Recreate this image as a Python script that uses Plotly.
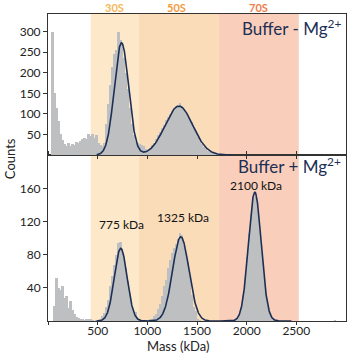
import numpy as np
import plotly.graph_objects as go

# ---------------- data ----------------
BIN_WIDTH = 20  # kDa
# histogram counts per 20 kDa bin starting at 0 kDa (Buffer - Mg2+)
counts_minus = [0, 0, 299, 152, 115, 82, 50, 36, 26, 22,
                29, 22, 27, 25, 31, 29, 34, 38, 42, 39,
                50, 46, 52, 41, 49, 30, 24, 22, 28, 75,
                125, 170, 215, 245, 255, 300, 280, 262, 235, 200,
                160, 115, 75, 48, 33, 30, 27, 24, 22, 14,
                10, 16, 24, 30, 40, 48, 56, 66, 74, 84,
                92, 100, 108, 114, 118, 119, 126, 118, 110, 102,
                92, 86, 80, 66, 58, 44, 35, 26, 20, 15,
                10, 7, 5, 3, 3, 2, 1, 1, 1, 1]
# histogram counts per 20 kDa bin starting at 0 kDa (Buffer + Mg2+)
counts_plus = [0, 0, 0, 18, 52, 40, 38, 42, 28, 30,
               16, 24, 13, 9, 5, 4, 2, 3, 1, 3,
               2, 3, 1, 0, 1, 0, 1, 6, 10, 17,
               26, 42, 55, 68, 80, 95, 96, 82, 76, 64,
               48, 33, 18, 11, 11, 4, 1, 0, 0, 1,
               1, 2, 3, 6, 9, 14, 20, 30, 42, 50,
               64, 74, 82, 88, 93, 99, 106, 104, 92, 82,
               72, 55, 32, 17, 12, 3, 1, 0, 0, 0,
               0, 0, 0, 0, 0, 0, 0, 0, 0, 0,
               0, 0, 1, 1, 2, 4, 8, 17, 31, 52,
               78, 106, 130, 148, 150, 134, 110, 83, 57, 35,
               19, 10, 5, 2, 1, 0, 0, 0, 0, 0,
               0, 0, 0, 0, 0, 0, 0, 0, 0, 0,
               0, 0, 0, 0, 0, 0, 0, 0, 0, 0,
               0, 0, 0, 0, 1, 0]

# Gaussian fit parameters: centre (kDa), sigma (kDa), amplitude (counts)
fit_minus_mu = [740, 1318]
fit_minus_sigma = [72, 140]
fit_minus_amp = [273, 119]
fit_minus_span = [490, 1850]

fit_plus_mu = [732, 1337, 2082]
fit_plus_sigma = [64, 82, 64]
fit_plus_amp = [88, 102, 156]
fit_plus_span = [490, 2450]

# sedimentation regions
region_names = ["30S", "50S", "70S"]
region_start = [430, 912, 1720]
region_end = [912, 1720, 2525]
region_label_x = [665, 1295, 2115]

peak_labels = ["775 kDa", "1325 kDa", "2100 kDa"]
peak_label_x = [744, 1354, 2090]
peak_label_y = [117, 125, 164]

x_ticks = [0, 500, 1000, 1500, 2000, 2500]
x_ticktext = ["", "500", "1000", "1500", "2000", "2500"]
y_top_ticks = [50, 100, 150, 200, 250, 300]
y_bot_ticks = [40, 80, 120, 160]

# ---------------- styles ----------------
FONT = "Lato"
NAVY = "#1d2f55"
BAR = "#bebfc1"
band_colors = ["#fde8ca", "#fbdcb9", "#f9cebb"]
label_colors = ["#f7b75a", "#f39a3e", "#ee7c48"]


def gauss_sum(x, mus, sigs, amps):
    y = np.zeros_like(x)
    for m, s, a in zip(mus, sigs, amps):
        y += a * np.exp(-0.5 * ((x - m) / s) ** 2)
    return y


centers_minus = np.arange(len(counts_minus)) * BIN_WIDTH + BIN_WIDTH / 2
centers_plus = np.arange(len(counts_plus)) * BIN_WIDTH + BIN_WIDTH / 2

xm = np.linspace(fit_minus_span[0], fit_minus_span[1], 500)
xp = np.linspace(fit_plus_span[0], fit_plus_span[1], 800)

fig = go.Figure()
fig.add_trace(go.Bar(x=centers_minus, y=counts_minus, width=BIN_WIDTH,
                     marker=dict(color=BAR, line=dict(width=0)),
                     xaxis="x2", yaxis="y2", showlegend=False))
fig.add_trace(go.Scatter(x=xm, y=gauss_sum(xm, fit_minus_mu, fit_minus_sigma, fit_minus_amp),
                         mode="lines", line=dict(color=NAVY, width=1.6),
                         xaxis="x2", yaxis="y2", showlegend=False))
fig.add_trace(go.Bar(x=centers_plus, y=counts_plus, width=BIN_WIDTH,
                     marker=dict(color=BAR, line=dict(width=0)),
                     xaxis="x", yaxis="y", showlegend=False))
fig.add_trace(go.Scatter(x=xp, y=gauss_sum(xp, fit_plus_mu, fit_plus_sigma, fit_plus_amp),
                         mode="lines", line=dict(color=NAVY, width=1.6),
                         xaxis="x", yaxis="y", showlegend=False))

shapes = []
for x0, x1, c in zip(region_start, region_end, band_colors):
    shapes.append(dict(type="rect", xref="x", yref="paper", x0=x0, x1=x1, y0=0, y1=1,
                       fillcolor=c, line=dict(width=0), layer="below"))

annotations = []
for name, xl, c in zip(region_names, region_label_x, label_colors):
    annotations.append(dict(text=name, x=xl, xref="x", y=1, yref="paper", yanchor="middle",
                            yshift=7, showarrow=False,
                            font=dict(family=FONT, size=11, color=c, weight="bold")))
for t, xl, yl in zip(peak_labels, peak_label_x, peak_label_y):
    annotations.append(dict(text=t, x=xl, xref="x", y=yl, yref="y", showarrow=False,
                            font=dict(family=FONT, size=12, color="#111111")))
annotations.append(dict(text="Buffer - Mg<sup>2+</sup>", x=0.99, xref="paper", y=0.955, yref="paper",
                        xanchor="right", yanchor="middle", showarrow=False,
                        font=dict(family=FONT, size=17, color=NAVY)))
annotations.append(dict(text="Buffer + Mg<sup>2+</sup>", x=0.99, xref="paper", y=0.505, yref="paper",
                        xanchor="right", yanchor="middle", showarrow=False,
                        font=dict(family=FONT, size=17, color=NAVY)))
annotations.append(dict(text="Counts", x=-0.128, xref="paper", y=0.53, yref="paper",
                        xanchor="center", yanchor="middle",
                        showarrow=False, textangle=-90, font=dict(family=FONT, size=13, color="#222")))
annotations.append(dict(text="Mass (kDa)", x=0.437, xref="paper", y=-0.08, yref="paper",
                        xanchor="center", yanchor="middle", showarrow=False,
                        font=dict(family=FONT, size=13, color="#222")))

axis_common = dict(showline=True, linecolor="#333333", linewidth=1,
                   showgrid=False, zeroline=False, tickcolor="#333333",
                   tickfont=dict(family=FONT, size=12, color="#222222"))

split = 166 / 307
fig.update_layout(
    width=353, height=353,
    margin=dict(l=48, r=7, t=14, b=32),
    paper_bgcolor="white", plot_bgcolor="white",
    bargap=0, barmode="overlay",
    shapes=shapes, annotations=annotations,
    xaxis=dict(**axis_common, mirror="ticks", range=[0, 3000], tickvals=x_ticks,
               ticktext=x_ticktext, ticks="outside", ticklen=3, ticklabelstandoff=-4,
               anchor="y", domain=[0, 1]),
    xaxis2=dict(**axis_common, mirror=True, range=[0, 3000], tickvals=x_ticks[1:],
                ticks="outside", ticklen=3, showticklabels=False, anchor="y2", matches="x"),
    yaxis=dict(**axis_common, mirror=True, range=[0, 201], tickvals=y_bot_ticks,
               ticks="outside", ticklen=4, domain=[0, split], anchor="x"),
    yaxis2=dict(**axis_common, mirror=True, range=[0, 343], tickvals=y_top_ticks,
                ticks="outside", ticklen=4, domain=[split, 1], anchor="x2"),
)

fig.write_html("out.html")
